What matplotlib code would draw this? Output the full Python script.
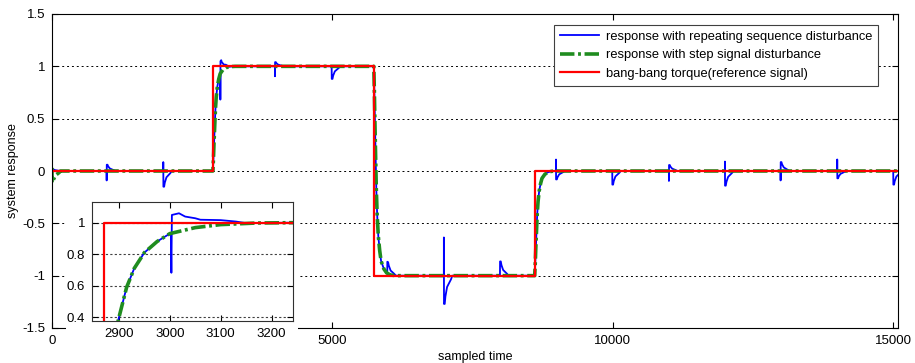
import numpy as np
import matplotlib
matplotlib.use("Agg")
import matplotlib.pyplot as plt
from matplotlib.patches import Rectangle

plt.rcParams['font.family'] = ['Liberation Sans', 'DejaVu Sans']

# reference (bang-bang torque) switching instants and levels
switch_t = [2870, 5740, 8610]
levels = [0, 1, -1, 0]
t_end = 15090

# step response shape after each switch
rise_dt = [0, 10, 20, 30, 45, 60, 80, 105, 130, 180, 230, 300, 400]
rise_frac = [0, 0.12, 0.27, 0.40, 0.59, 0.71, 0.81, 0.88, 0.93, 0.968, 0.987, 0.997, 1.0]

# repeating-sequence disturbance spikes on the blue response
dist_t = [0, 975, 1985, 3003, 3977, 4988, 5980, 6990, 7990, 8990, 9993, 11004, 12003, 12996, 14006, 15005]
dist_first = [0.075, -0.09, 0.085, -0.25, -0.095, 0.0, 0.0, 0.365, 0.0, 0.11, 0.0, -0.095, 0.09, -0.09, 0.11, 0.0]
dist_tail = [0.02, 0.06, -0.15, 0.115, 0.04, -0.12, 0.11, -0.27, 0.136, -0.08, -0.13, 0.057, -0.14, 0.085, -0.07, -0.13]

# decay of a spike tail (from inset around 3000)
decay_dt = [1, 2, 15, 27, 57, 127, 150]
decay_frac = [1.0, 1.0, 1.0, 0.74, 0.40, 0.13, 0.0]

# step-signal disturbance on the green response at start
green_t = [0]
green_first = [0.03]
green_tail = [-0.11]

ref_t = [0] + switch_t + [t_end]
ref_y = levels + [levels[-1]]

inset_xticks = [2900, 3000, 3100, 3200]
inset_yticks = [0.4, 0.6, 0.8, 1]


def base_response():
    t, y = [0.0], [0.0]
    prev = levels[0]
    for ts, lvl in zip(switch_t, levels[1:]):
        t += [ts + d for d in rise_dt]
        y += [prev + (lvl - prev) * f for f in rise_frac]
        prev = lvl
    t.append(t_end)
    y.append(prev)
    return np.array(t, float), np.array(y, float)


def with_spikes(bt, by, times, first, tail):
    pieces = []
    T = list(bt)
    for td, a, b in zip(times, first, tail):
        st = [td - 1, td] + [td + d for d in decay_dt]
        sv = [0.0, a] + [b * f for f in decay_frac]
        pieces.append((st, sv))
        T += st
    T = np.unique(np.clip(T, 0, t_end))
    Y = np.interp(T, bt, by)
    for st, sv in pieces:
        Y = Y + np.interp(T, st, sv, left=0, right=0)
    return T, Y


bt, by = base_response()
blue_t, blue_y = with_spikes(bt, by, dist_t, dist_first, dist_tail)
green_tt, green_y = with_spikes(bt, by, green_t, green_first, green_tail)

blue = '#0000ff'
green = '#1f8c1f'
red = '#ff0000'
dash = (0, (4, 1, 0.8, 1))

fig = plt.figure(figsize=(9.15, 3.63), dpi=100)
ax = fig.add_axes([52 / 915, 35 / 363, 846 / 915, 314 / 363])
ax.set_zorder(0)

ax.plot(blue_t, blue_y, color=blue, lw=1.3, label='response with repeating sequence disturbance')
ax.plot(green_tt, green_y, color=green, lw=2.6, linestyle=dash, label='response with step signal disturbance')
ax.plot(ref_t, ref_y, color=red, lw=1.6, drawstyle='steps-post', label='bang-bang torque(reference signal)')

ax.set_xlim(0, t_end)
ax.set_ylim(-1.5, 1.5)
ax.set_xticks([0, 5000, 10000, 15000])
ax.set_yticks([-1.5, -1, -0.5, 0, 0.5, 1, 1.5])
ax.set_yticklabels(['-1.5', '-1', '-0.5', '0', '0.5', '1', '1.5'])
ax.tick_params(direction='in', top=True, right=True, labelsize=9.5, length=4, pad=5)
ax.yaxis.grid(True, color='black', linestyle=(0, (2, 3)), lw=0.7)
ax.set_xlabel('sampled time', fontsize=9, labelpad=3)
ax.set_ylabel('system response', fontsize=9, labelpad=2)

leg = ax.legend(loc='upper right', bbox_to_anchor=(0.976, 0.965), borderaxespad=0,
                fontsize=9.3, fancybox=False, framealpha=1, edgecolor='#404040',
                handlelength=3.0, handletextpad=0.5, labelspacing=0.5, borderpad=0.45)
leg.get_frame().set_linewidth(0.8)

# white area behind the inset (covers its tick labels)
fig.add_artist(Rectangle((66 / 915, 17 / 363), 232 / 915, 150 / 363, transform=fig.transFigure,
                         facecolor='white', edgecolor='none', zorder=1))

# zoomed inset
ins = fig.add_axes([92 / 915, 42 / 363, 201 / 915, 119 / 363])
ins.set_zorder(2)
ins.plot(blue_t, blue_y, color=blue, lw=1.3)
ins.plot(green_tt, green_y, color=green, lw=2.6, linestyle=dash)
ins.plot(ref_t, ref_y, color=red, lw=1.6, drawstyle='steps-post')
ins.set_xlim(2847, 3242)
ins.set_ylim(0.377, 1.13)
ins.set_xticks(inset_xticks)
ins.set_yticks(inset_yticks)
ins.set_yticklabels(['0.4', '0.6', '0.8', '1'])
ins.tick_params(direction='in', top=True, right=True, labelsize=9.5, length=4, pad=5)
ins.yaxis.grid(True, color='#404040', linestyle=(0, (2, 2)), lw=0.8)
for s in ins.spines.values():
    s.set_color('#303030')

fig.savefig('out.png', dpi=100)
